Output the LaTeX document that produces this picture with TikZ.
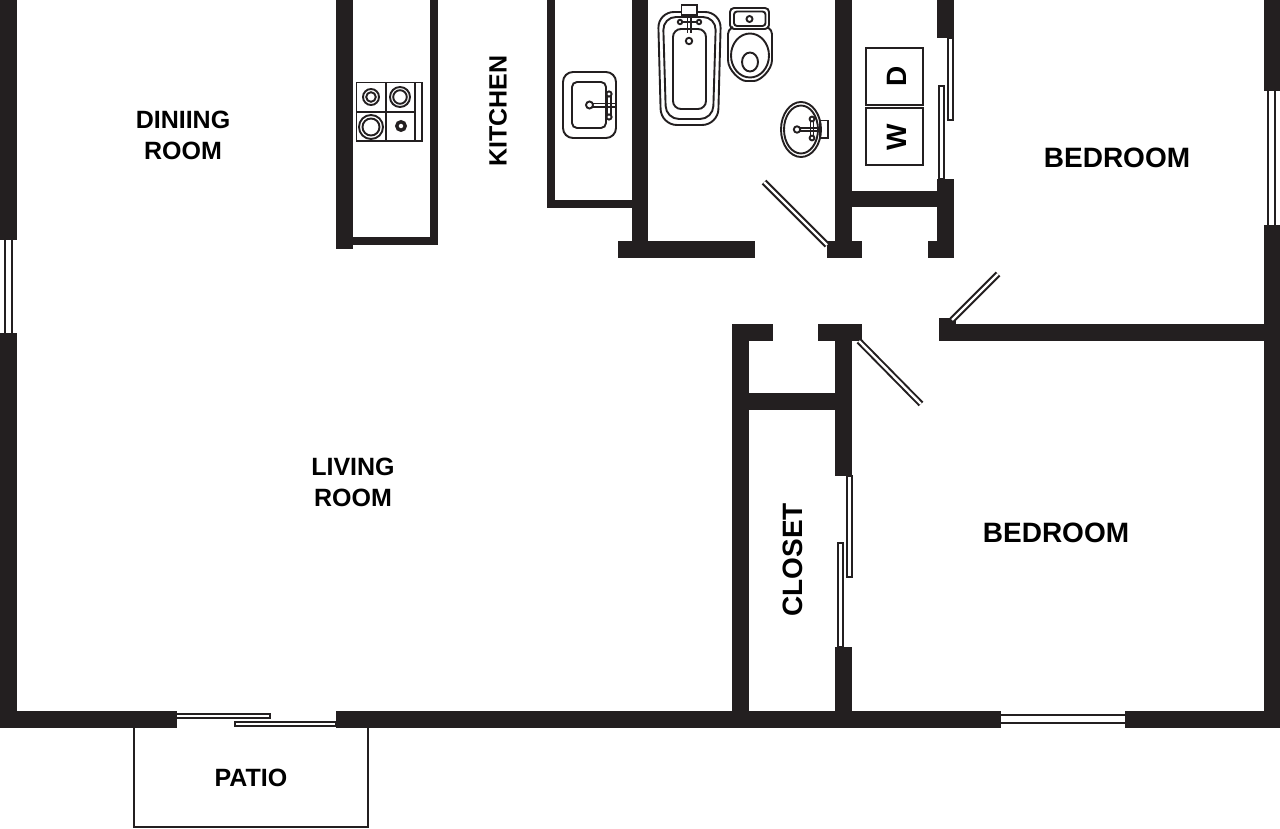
\documentclass[tikz,border=0pt]{standalone}
\usepackage{fontspec}
\setmainfont{Liberation Sans}
\definecolor{wallc}{HTML}{231F20}
\tikzset{
  wallf/.style={fill=wallc,draw=none},
  lbl/.style={font=\bfseries\fontsize{25}{25}\selectfont,text=black,inner sep=0pt,anchor=center},
  lblbig/.style={font=\bfseries\fontsize{28}{28}\selectfont,text=black,inner sep=0pt,anchor=center},
  panel/.style={draw=wallc,fill=white,line width=2pt},
  swing/.style={draw=wallc,double=white,double distance=2.4pt,line width=2pt},
  pane/.style={draw=wallc,line width=2.2pt},
  fix/.style={draw=wallc,line width=1.9pt,fill=white},
  fixn/.style={draw=wallc,line width=1.9pt},
  appl/.style={draw=wallc,line width=2.2pt,fill=white},
}
\begin{document}
\begin{tikzpicture}[x=1pt,y=-1pt]
\useasboundingbox (0,0) rectangle (1280,829);
% patio
\draw[pane,line width=1.8pt] (134,728) -- (134,827) -- (368,827) -- (368,728);
% outer walls
\fill[wallf] (0,0) rectangle (17,240);
\fill[wallf] (0,333) rectangle (17,728);
\fill[wallf] (1264,0) rectangle (1280,91);
\fill[wallf] (1264,225) rectangle (1280,728);
\fill[wallf] (0,711) rectangle (177,728);
\fill[wallf] (336,711) rectangle (1001,728);
\fill[wallf] (1125,711) rectangle (1280,728);
% kitchen counter (stove side)
\fill[wallf] (336,0) rectangle (353,249);
\fill[wallf] (353,237) rectangle (438,245);
\fill[wallf] (430,0) rectangle (438,245);
% kitchen sink side
\fill[wallf] (547,0) rectangle (555,208);
\fill[wallf] (547,200) rectangle (632,208);
\fill[wallf] (632,0) rectangle (648,258);
\fill[wallf] (618,241) rectangle (755,258);
% bath / laundry
\fill[wallf] (835,0) rectangle (852,258);
\fill[wallf] (827,241) rectangle (862,258);
\fill[wallf] (852,191) rectangle (937,207);
\fill[wallf] (937,0) rectangle (954,38);
\fill[wallf] (937,179) rectangle (954,258);
\fill[wallf] (928,241) rectangle (954,258);
% closet
\fill[wallf] (732,324) rectangle (749,728);
\fill[wallf] (732,324) rectangle (773,341);
\fill[wallf] (818,324) rectangle (862,341);
\fill[wallf] (835,324) rectangle (852,476);
\fill[wallf] (749,393) rectangle (835,410);
\fill[wallf] (835,647) rectangle (852,728);
% bedroom divider
\fill[wallf] (939,318) rectangle (956,341);
\fill[wallf] (939,324) rectangle (1280,341);
% windows
\draw[pane] (5,240) -- (5,333);
\draw[pane] (12,240) -- (12,333);
\draw[pane] (1268,91) -- (1268,225);
\draw[pane] (1275,91) -- (1275,225);
\draw[pane] (1001,715) -- (1125,715);
\draw[pane] (1001,723) -- (1125,723);
% sliding doors
\draw[panel] (176,713.5) rectangle (270,718);
\draw[panel] (235,721.5) rectangle (336,726);
\draw[panel] (947.5,38) rectangle (952.5,120);
\draw[panel] (938.5,86) rectangle (943.5,179);
\draw[panel] (846.5,476) rectangle (851.5,577);
\draw[panel] (838,543) rectangle (843,647);
% swing doors
\draw[swing] (827,245) -- (764,182);
\draw[swing] (859,341) -- (921,404);
\draw[swing] (952,320) -- (998,274);
% washer, dryer
\draw[appl] (866,48) rectangle (923,105);
\draw[appl] (866,108) rectangle (923,165);
% stove
\draw[fixn] (356.5,82.5) rectangle (422,141);
\draw[fixn] (386,82.5) -- (386,141);
\draw[fixn] (356.5,112) -- (415,112);
\draw[fixn] (415,82.5) -- (415,141);
\draw[fixn] (371,97) circle (8);
\draw[fixn] (371,97) circle (4.8);
\draw[fixn] (400,97) circle (10);
\draw[fixn] (400,97) circle (6.8);
\draw[fixn] (371,127) circle (12);
\draw[fixn] (371,127) circle (8.5);
\draw[draw=wallc,line width=3.4pt] (401,126) circle (4.2);
% kitchen sink
\draw[fixn,rounded corners=10pt] (563,72) rectangle (616,138);
\draw[fixn,rounded corners=5pt] (572,82) rectangle (606,128);
\draw[fixn] (593,103.5) -- (617,103.5);
\draw[fixn] (593,107) -- (617,107);
\draw[fixn] (607,94) -- (607,116);
\draw[fixn] (611,94) -- (611,116);
\draw[fixn,fill=white] (589.5,105) circle (3.5);
\draw[fixn,fill=white] (609,94) circle (2.6);
\draw[fixn,fill=white] (609,117) circle (2.6);
% bathtub
\draw[fixn,rounded corners=16pt] (658,12) -- (721,12) -- (718,125) -- (661,125) -- cycle;
\draw[fixn,rounded corners=13pt] (663,17) -- (716,17) -- (713,119) -- (666,119) -- cycle;
\draw[fixn,rounded corners=8pt] (673,29) rectangle (706,109);
\draw[fix] (681.5,5) rectangle (697,15);
\draw[fixn] (680,22) -- (699,22);
\draw[fixn] (687.5,15) -- (687.5,33);
\draw[fixn] (691,15) -- (691,33);
\draw[fixn,fill=white] (680,22) circle (2.2);
\draw[fixn,fill=white] (699,22) circle (2.2);
\draw[fixn,fill=white] (689,41) circle (3.2);
% toilet
\draw[fixn,rounded corners=4pt] (730,8) rectangle (769,29);
\draw[fixn,rounded corners=3pt] (734,11.5) rectangle (765.5,26);
\draw[fixn] (749.5,19) circle (3);
\draw[fixn,rounded corners=4pt] (733,27) -- (728,30) -- (728,56) .. controls (728,70) and (740,81) .. (750,81) .. controls (760,81) and (772,70) .. (772,56) -- (772,30) -- (767,27);
\draw[fixn] (750,55.5) ellipse (19 and 22);
\draw[fixn] (750,62) ellipse (8 and 9.5);
% bath sink
\draw[fix] (820,120.5) rectangle (828,138);
\draw[fixn] (801,129.5) ellipse (20 and 27.5);
\draw[fixn] (801,129.5) ellipse (17 and 24);
\draw[fixn] (797,128) -- (819,128);
\draw[fixn] (797,131) -- (819,131);
\draw[fixn] (810.5,119) -- (810.5,138);
\draw[fixn] (813.5,119) -- (813.5,138);
\draw[fixn,fill=white] (797,129.5) circle (3.2);
\draw[fixn,fill=white] (812,119) circle (2.4);
\draw[fixn,fill=white] (812,138) circle (2.4);
% labels
\node[lbl] (dining) at (183,120) {DINIING};
\node[lbl] (diningb) at (183,151) {ROOM};
\node[lbl] (living) at (353,467) {LIVING};
\node[lbl] (livingb) at (353,498) {ROOM};
\node[lbl,rotate=90] (kitchen) at (498,111) {KITCHEN};
\node[lblbig,rotate=90] (closet) at (793,560) {CLOSET};
\node[lblbig] (bedone) at (1117,158) {BEDROOM};
\node[lblbig] (bedtwo) at (1056,533) {BEDROOM};
\node[lbl] (patio) at (251,778) {PATIO};
\node[lblbig,rotate=90] (dryer) at (897,76) {D};
\node[lblbig,rotate=90] (washer) at (897,137) {W};
\end{tikzpicture}
\end{document}
